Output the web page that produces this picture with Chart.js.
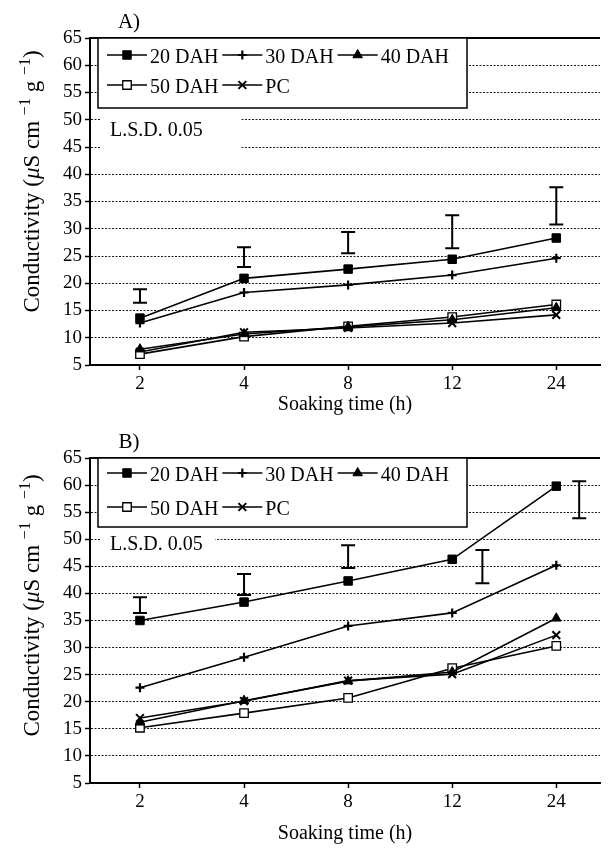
<!DOCTYPE html>
<html>
<head>
<meta charset="utf-8">
<script src="https://cdn.jsdelivr.net/npm/chart.js@4.4.1/dist/chart.umd.min.js"></script>
<style>
body { margin: 0; background: #fff; }
canvas { display: block; }
</style>
</head>
<body>
<canvas id="chartA" width="612" height="425"></canvas>
<canvas id="chartB" width="612" height="431"></canvas>
<script>
const categories = ['2', '4', '8', '12', '24'];
const seriesNames = ['20 DAH', '30 DAH', '40 DAH', '50 DAH', 'PC'];
const yMin = 5, yMax = 65, yStep = 5;

// A)
const dah20A = [13.6, 20.9, 22.6, 24.4, 28.3];
const dah30A = [12.7, 18.3, 19.7, 21.5, 24.6];
const dah40A = [7.9, 10.7, 12.0, 13.3, 15.5];
const dah50A = [7.0, 10.2, 12.1, 13.8, 16.1];
const pcA = [7.4, 11.0, 11.8, 12.7, 14.2];
const lsdPosA = [0, 1, 2, 3, 4];
const lsdLowA = [16.4, 23.0, 25.5, 26.4, 30.8];
const lsdHighA = [18.9, 26.6, 29.4, 32.5, 37.6];

// B)
const dah20B = [35.0, 38.4, 42.3, 46.3, 59.8];
const dah30B = [22.6, 28.2, 34.0, 36.4, 45.2];
const dah40B = [16.2, 20.2, 23.8, 25.5, 35.4];
const dah50B = [15.2, 17.9, 20.7, 26.2, 30.3];
const pcB = [17.0, 20.1, 23.9, 25.1, 32.3];
const lsdPosB = [0, 1, 2, 3.29, 4.22];
const lsdLowB = [36.4, 39.7, 44.7, 41.9, 53.9];
const lsdHighB = [39.3, 43.6, 48.9, 48.0, 60.7];

const serif = '"Liberation Serif", "Times New Roman", serif';
Chart.defaults.font.family = serif;
Chart.defaults.color = '#000';

const markers = [
    { pointStyle: 'rect', pointRadius: 6, pointBackgroundColor: '#000', pointBorderWidth: 1 },
    { pointStyle: 'cross', pointRadius: 4.5, pointBackgroundColor: '#000', pointBorderWidth: 2.2 },
    { pointStyle: 'triangle', pointRadius: 5.5, pointBackgroundColor: '#000', pointBorderWidth: 1 },
    { pointStyle: 'rect', pointRadius: 6, pointBackgroundColor: '#fff', pointBorderWidth: 1.3 },
    { pointStyle: 'crossRot', pointRadius: 5.5, pointBackgroundColor: '#000', pointBorderWidth: 2 }
];

// y title pieces: [text, size, italic, raise]
const yTitle = [
    ['Conductivity (', 23, false, 0],
    ['μ', 23, true, 0],
    ['S cm ', 23, false, 0],
    ['−1', 16, false, 9],
    [' g ', 23, false, 0],
    ['−1', 16, false, 9],
    [')', 23, false, 0]
];

// legend box, L.S.D. label, panel letter, y title and the L.S.D. bars
const decor = {
    id: 'decor',
    beforeDatasetsDraw(chart, args, o) {
        const ctx = chart.ctx, area = chart.chartArea, y = chart.scales.y;
        ctx.save();
        ctx.strokeStyle = '#000';
        ctx.lineWidth = 2;
        ctx.beginPath();
        ctx.moveTo(area.left, area.top);
        ctx.lineTo(area.right, area.top);
        ctx.stroke();

        // L.S.D. label over the grid
        const bt = y.getPixelForValue(o.lsdBox[2]), bb = y.getPixelForValue(o.lsdBox[1]);
        ctx.fillStyle = '#fff';
        ctx.fillRect(area.left + 10, bt, o.lsdBox[0], bb - bt);
        ctx.fillStyle = '#000';
        ctx.font = '20px ' + serif;
        ctx.textAlign = 'left';
        ctx.textBaseline = 'middle';
        ctx.fillText('L.S.D. 0.05', area.left + 20, y.getPixelForValue(o.lsdTextAt));

        // legend
        const lx = area.left + 8, ly = area.top, lw = 369, lh = o.legendH;
        ctx.fillStyle = '#fff';
        ctx.fillRect(lx, ly, lw, lh);
        ctx.lineWidth = 1.5;
        ctx.strokeRect(lx, ly, lw, lh);
        [[0, 1, 2], [3, 4]].forEach((row, r) => {
            let cx = lx + 9;
            const ry = ly + o.legendRows[r];
            row.forEach(i => {
                const ds = chart.data.datasets[i];
                ctx.strokeStyle = '#000';
                ctx.lineWidth = 1.5;
                ctx.beginPath();
                ctx.moveTo(cx, ry);
                ctx.lineTo(cx + 40, ry);
                ctx.stroke();
                ctx.fillStyle = ds.pointBackgroundColor;
                ctx.lineWidth = ds.pointBorderWidth;
                Chart.helpers.drawPoint(ctx, {
                    pointStyle: ds.pointStyle, radius: ds.pointRadius,
                    borderWidth: ds.pointBorderWidth, rotation: 0
                }, cx + 20, ry);
                ctx.fillStyle = '#000';
                ctx.font = '20px ' + serif;
                ctx.fillText(ds.label, cx + 43, ry + 3);
                cx += 43 + ctx.measureText(ds.label).width + 4;
            });
        });

        ctx.font = '21px ' + serif;
        ctx.textAlign = 'center';
        ctx.fillText(o.letter, area.left + 39, area.top - 16);

        // rotated y title
        const fontOf = (p) => (p[2] ? 'italic ' : '') + p[1] + 'px ' + serif;
        let total = 0;
        yTitle.forEach(p => { ctx.font = fontOf(p); total += ctx.measureText(p[0]).width; });
        ctx.translate(31, (area.top + area.bottom) / 2 - o.titleShift);
        ctx.rotate(-Math.PI / 2);
        ctx.textAlign = 'left';
        ctx.textBaseline = 'alphabetic';
        let tx = -total / 2;
        yTitle.forEach(p => {
            ctx.font = fontOf(p);
            ctx.fillText(p[0], tx, 8 - p[3]);
            tx += ctx.measureText(p[0]).width;
        });
        ctx.restore();
    },
    afterDatasetsDraw(chart, args, o) {
        const ctx = chart.ctx, x = chart.scales.x, y = chart.scales.y;
        ctx.save();
        ctx.strokeStyle = '#000';
        ctx.lineWidth = 2;
        o.lsdX.forEach((xv, k) => {
            const px = x.getPixelForValue(xv);
            const top = y.getPixelForValue(o.lsdHigh[k]);
            const bot = y.getPixelForValue(o.lsdLow[k]);
            ctx.beginPath();
            ctx.moveTo(px, top);
            ctx.lineTo(px, bot);
            ctx.moveTo(px - 7, top);
            ctx.lineTo(px + 7, top);
            ctx.moveTo(px - 7, bot);
            ctx.lineTo(px + 7, bot);
            ctx.stroke();
        });
        ctx.restore();
    }
};

function panel(canvasId, series, extra) {
    return new Chart(document.getElementById(canvasId), {
        type: 'line',
        data: {
            datasets: series.map((vals, s) => Object.assign({
                label: seriesNames[s],
                data: categories.map((c, i) => ({ x: i, y: vals[i] })),
                borderColor: '#000',
                borderWidth: 1.6,
                pointBorderColor: '#000',
                tension: 0,
                fill: false
            }, markers[s]))
        },
        options: {
            responsive: false,
            animation: false,
            events: [],
            clip: false,
            layout: { padding: { left: 17, right: 12, top: extra.top, bottom: 0 } },
            scales: {
                x: {
                    type: 'linear',
                    min: -0.48,
                    max: 4.42,
                    afterBuildTicks: (s) => { s.ticks = categories.map((c, i) => ({ value: i })); },
                    afterFit: (s) => { s.height = extra.xHeight; },
                    ticks: {
                        callback: (v) => categories[v],
                        font: { size: 19 },
                        color: '#000',
                        padding: 3,
                        maxRotation: 0,
                        autoSkip: false
                    },
                    grid: { drawOnChartArea: false, tickLength: 5, tickColor: '#000', tickWidth: 1.5 },
                    border: { color: '#000', width: 2 },
                    title: {
                        display: true,
                        text: 'Soaking time (h)',
                        font: { size: 20 },
                        color: '#000',
                        padding: { top: 0, bottom: extra.titleBottom }
                    }
                },
                y: {
                    min: yMin,
                    max: yMax,
                    afterFit: (s) => { s.width = 73; },
                    ticks: { stepSize: yStep, font: { size: 19 }, color: '#000', padding: 3 },
                    grid: {
                        color: (c) => (c.tick && (c.tick.value === yMin || c.tick.value === yMax)) ? 'rgba(0,0,0,0)' : '#1a1a1a',
                        lineWidth: 1,
                        tickLength: 5,
                        tickColor: '#000',
                        tickWidth: 1.5
                    },
                    border: { color: '#000', width: 2, dash: [2, 1.5] },
                    title: { display: false }
                }
            },
            plugins: {
                legend: { display: false },
                tooltip: { enabled: false },
                decor: extra.decor
            }
        },
        plugins: [decor]
    });
}

panel('chartA', [dah20A, dah30A, dah40A, dah50A, pcA], {
    top: 38, xHeight: 60, titleBottom: 8,
    decor: {
        letter: 'A)', legendH: 70, legendRows: [17, 47], titleShift: 20,
        lsdBox: [140, 44, 51.5], lsdTextAt: 48,
        lsdX: lsdPosA, lsdLow: lsdLowA, lsdHigh: lsdHighA
    }
});

panel('chartB', [dah20B, dah30B, dah40B, dah50B, pcB], {
    top: 33, xHeight: 73, titleBottom: 10,
    decor: {
        letter: 'B)', legendH: 69, legendRows: [15, 49], titleShift: 15,
        lsdBox: [115, 47, 51.5], lsdTextAt: 49,
        lsdX: lsdPosB, lsdLow: lsdLowB, lsdHigh: lsdHighB
    }
});
</script>
</body>
</html>
